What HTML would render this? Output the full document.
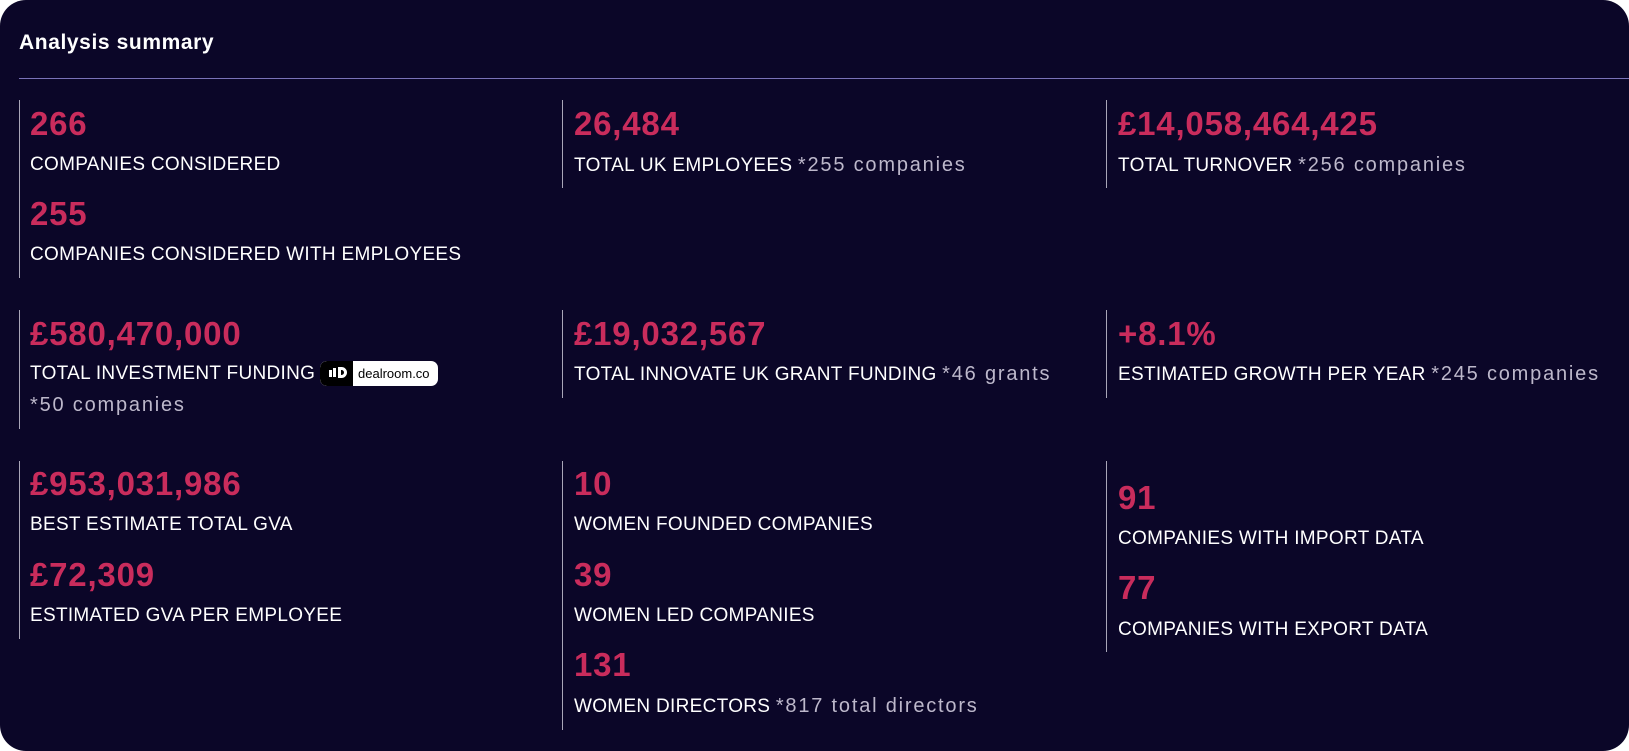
<!DOCTYPE html>
<html><head><meta charset="utf-8"><style>
*{margin:0;padding:0;box-sizing:border-box}
body{width:1629px;height:751px;background:#fff;overflow:hidden;font-family:"Liberation Sans",sans-serif}
.card{position:absolute;left:0;top:0;width:1629px;height:751px;background:#0b0628;border-radius:26px;}
.t{position:absolute;white-space:nowrap;line-height:30px;height:30px}
.n{color:#c92c5c;font-weight:bold;font-size:33px;line-height:40px;height:40px;letter-spacing:0.8px}
.l{color:#fff;font-size:19px;letter-spacing:0.3px;margin-top:2px}
.g{color:#bdb8cb;font-size:20px;letter-spacing:1.8px}
.b{position:absolute;width:1px;background:#a9a6b8}
</style></head><body><div class="card">
<div class="t" style="left:19px;top:28px;color:#fff;font-size:21px;font-weight:bold;letter-spacing:0.6px">Analysis summary</div>
<div style="position:absolute;left:19px;right:0;top:78px;height:1px;background:#7a72b8"></div>

<div class="b" style="left:19px;top:100px;height:178px"></div>
<div class="b" style="left:562px;top:100px;height:88px"></div>
<div class="b" style="left:1106px;top:100px;height:88px"></div>
<div class="b" style="left:19px;top:310px;height:119px"></div>
<div class="b" style="left:562px;top:310px;height:88px"></div>
<div class="b" style="left:1106px;top:310px;height:88px"></div>
<div class="b" style="left:19px;top:461px;height:178px"></div>
<div class="b" style="left:562px;top:461px;height:269px"></div>
<div class="b" style="left:1106px;top:461px;height:191px"></div>

<div class="t n" style="left:30px;top:104px">266</div>
<div class="t l" style="left:30px;top:148px">COMPANIES CONSIDERED</div>
<div class="t n" style="left:30px;top:194px">255</div>
<div class="t l" style="left:30px;top:238px">COMPANIES CONSIDERED WITH EMPLOYEES</div>

<div class="t n" style="left:574px;top:104px">26,484</div>
<div class="t l" style="left:574px;top:148px">TOTAL UK EMPLOYEES <span class="g">*255 companies</span></div>
<div class="t n" style="left:1118px;top:104px">£14,058,464,425</div>
<div class="t l" style="left:1118px;top:148px">TOTAL TURNOVER <span class="g">*256 companies</span></div>

<div class="t n" style="left:30px;top:314px">£580,470,000</div>
<div class="t l" style="left:30px;top:357px">TOTAL INVESTMENT FUNDING</div>
<div style="position:absolute;left:320px;top:361px;width:118px;height:25px;border-radius:7px;background:#fff;overflow:hidden">
<div style="position:absolute;left:0;top:0;width:33px;height:25px;background:#000;border-radius:7px 0 0 7px"></div>
<div style="position:absolute;left:9px;top:9px;width:3px;height:7px;background:#fff"></div>
<div style="position:absolute;left:13px;top:7px;width:3px;height:9px;background:#fff"></div>
<div style="position:absolute;left:18px;top:6px;width:9px;height:11px;border:3px solid #fff;border-radius:0 6px 6px 0"></div>
<div style="position:absolute;left:38px;top:3px;font-size:13px;line-height:19px;color:#000">dealroom.co</div>
</div>
<div class="t l g" style="left:30px;top:388px">*50 companies</div>

<div class="t n" style="left:574px;top:314px">£19,032,567</div>
<div class="t l" style="left:574px;top:357px">TOTAL INNOVATE UK GRANT FUNDING <span class="g">*46 grants</span></div>
<div class="t n" style="left:1118px;top:314px">+8.1%</div>
<div class="t l" style="left:1118px;top:357px">ESTIMATED GROWTH PER YEAR <span class="g">*245 companies</span></div>

<div class="t n" style="left:30px;top:464px">£953,031,986</div>
<div class="t l" style="left:30px;top:508px">BEST ESTIMATE TOTAL GVA</div>
<div class="t n" style="left:30px;top:555px">£72,309</div>
<div class="t l" style="left:30px;top:599px">ESTIMATED GVA PER EMPLOYEE</div>

<div class="t n" style="left:574px;top:464px">10</div>
<div class="t l" style="left:574px;top:508px">WOMEN FOUNDED COMPANIES</div>
<div class="t n" style="left:574px;top:555px">39</div>
<div class="t l" style="left:574px;top:599px">WOMEN LED COMPANIES</div>
<div class="t n" style="left:574px;top:645px">131</div>
<div class="t l" style="left:574px;top:689px">WOMEN DIRECTORS <span class="g">*817 total directors</span></div>

<div class="t n" style="left:1118px;top:478px">91</div>
<div class="t l" style="left:1118px;top:522px">COMPANIES WITH IMPORT DATA</div>
<div class="t n" style="left:1118px;top:568px">77</div>
<div class="t l" style="left:1118px;top:613px">COMPANIES WITH EXPORT DATA</div>
</div></body></html>
